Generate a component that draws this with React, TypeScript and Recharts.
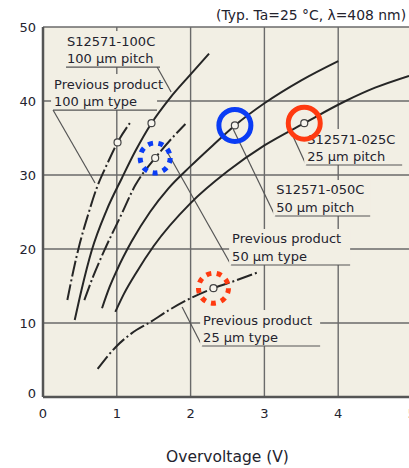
import React from 'react'
import { LineChart, Line, XAxis, YAxis, CartesianGrid, ReferenceDot, ReferenceLine } from 'recharts'

const xTicks = [0, 1, 2, 3, 4, 5]
const yTicks = [0, 10, 20, 30, 40, 50]

// overvoltage (V) / PDE (%)
const prev100V = [0.33, 0.41, 0.5, 0.61, 0.73, 0.87, 1.01, 1.19]
const prev100G = [13.1, 17, 20.8, 24.6, 28.3, 31.5, 34.4, 37.2]
const s100V = [0.43, 0.52, 0.66, 0.86, 1.07, 1.25, 1.47, 1.72, 2.0, 2.25]
const s100G = [10.4, 14.4, 19.8, 25.2, 29.6, 33.2, 37, 40.4, 43.6, 46.4]
const prev50V = [0.56, 0.68, 0.84, 1.05, 1.25, 1.52, 1.75, 1.93]
const prev50G = [13.1, 16.3, 20, 24.4, 28.6, 32.3, 35, 36.9]
const s050V = [0.8, 0.9, 1.0, 1.2, 1.45, 1.7, 2.0, 2.3, 2.6, 3.0, 3.5, 4.0]
const s050G = [12, 14.8, 17.1, 21, 25, 28.2, 31.2, 34.0, 36.7, 39.7, 42.8, 45.4]
const s025V = [0.98, 1.1, 1.27, 1.5, 2.0, 2.5, 3.0, 3.54, 4.1, 4.5, 4.96]
const s025G = [11.5, 14, 16.9, 20.4, 26.2, 30.5, 34, 37, 40, 41.8, 43.4]
const prev25V = [0.74, 0.99, 1.2, 1.45, 1.7, 1.95, 2.31, 2.6, 2.9]
const prev25G = [3.8, 6.8, 8.6, 10.1, 11.7, 13.1, 14.7, 15.7, 16.8]

// open circles on the curves
const markerV = [1.01, 1.47, 1.52, 2.6, 3.54, 2.31]
const markerG = [34.4, 37, 32.3, 36.7, 37, 14.7]

// coloured rings: [v, g, colour, dotted]
const rings: Array<[number, number, string, boolean]> = [
  [2.6, 36.7, '#0a3cf5', false],
  [3.54, 37, '#ff3a10', false],
  [1.52, 32.3, '#0a3cf5', true],
  [2.31, 14.7, '#ff3a10', true],
]

// label blocks: left end / underline position in data units
const labelText = [
  ['S12571-100C', '100 µm pitch'],
  ['Previous product', '100 µm type'],
  ['S12571-025C', '25 µm pitch'],
  ['S12571-050C', '50 µm pitch'],
  ['Previous product', '50 µm type'],
  ['Previous product', '25 µm type'],
]
const labelV = [0.312, 0.136, 3.566, 3.146, 2.549, 2.156]
const labelG = [44.59, 38.78, 31.35, 24.46, 17.84, 6.89]
const labelW = [94, 104, 96, 95, 119, 118]

// leader lines from label to curve
const leaders = [
  [1.546, 44.59, 1.736, 41.22],
  [0.136, 38.78, 0.705, 28.92],
  [3.566, 31.35, 3.336, 36.35],
  [3.146, 24.46, 2.576, 36.22],
  [2.549, 17.84, 1.668, 33.38],
  [2.156, 6.89, 1.885, 12.16],
]

const zip = (vs: number[], gs: number[]) => vs.map((v, i) => ({ v, g: gs[i] }))

const curves = [
  { key: 'prev100', data: zip(prev100V, prev100G), dashed: true },
  { key: 's100', data: zip(s100V, s100G), dashed: false },
  { key: 'prev50', data: zip(prev50V, prev50G), dashed: true },
  { key: 's050', data: zip(s050V, s050G), dashed: false },
  { key: 's025', data: zip(s025V, s025G), dashed: false },
  { key: 'prev25', data: zip(prev25V, prev25G), dashed: true },
]

const plotBg = '#f2efe4'
const ink = '#262626'
const textColor = '#23232e'

const XTick = ({ x, y, payload }: any) => (
  <text x={x} y={y + 16} textAnchor="middle" dominantBaseline="central" fontSize={13} fill={textColor}>
    {payload.value}
  </text>
)

const YTick = ({ x, y, payload }: any) => (
  <text x={x - 7} y={payload.value === 0 ? y - 4 : y} textAnchor="end" dominantBaseline="central" fontSize={13} fill={textColor}>
    {payload.value}
  </text>
)

const LabelBlock = ({ cx, cy, lines, width }: any) => (
  <g>
    <rect x={cx - 2} y={cy - 36} width={width + 2} height={36} fill={plotBg} />
    <text x={cx + 1} y={cy - 26} dominantBaseline="central" fontSize={13} fill={textColor}>{lines[0]}</text>
    <text x={cx + 1} y={cy - 8.5} dominantBaseline="central" fontSize={13} fill={textColor}>{lines[1]}</text>
    <line x1={cx} y1={cy} x2={cx + width} y2={cy} stroke="#555" strokeWidth={1.2} />
  </g>
)

const Title = ({ cx, cy }: any) => (
  <text x={cx - 196} y={cy - 12} dominantBaseline="central" fontSize={13.9} fill={textColor}>
    (Typ. Ta=25 °C, λ=408 nm)
  </text>
)

export default function App() {
  return (
    <div style={{ position: 'absolute', left: 0, top: 0, width: 409, height: 468, overflow: 'hidden', background: '#fff', fontFamily: '"DejaVu Sans", sans-serif' }}>
      <LineChart width={430} height={468} margin={{ top: 27, right: 18, bottom: 0, left: 0 }}>
        <CartesianGrid stroke="#6a6a6a" strokeWidth={1.4} fill={plotBg} fillOpacity={1} />
        <XAxis
          type="number"
          dataKey="v"
          domain={[0, 5]}
          ticks={xTicks}
          height={71}
          tickSize={0}
          tickMargin={0}
          tickLine={false}
          tick={<XTick />}
          axisLine={{ stroke: '#555', strokeWidth: 2.5 }}
          allowDataOverflow
          label={{ value: 'Overvoltage (V)', position: 'insideBottom', offset: 6, fontSize: 15.5, fill: textColor }}
        />
        <YAxis
          type="number"
          dataKey="g"
          domain={[0, 50]}
          ticks={yTicks}
          width={43}
          tickSize={0}
          tickMargin={0}
          tickLine={false}
          tick={<YTick />}
          axisLine={{ stroke: '#555', strokeWidth: 2.5 }}
          allowDataOverflow
        />
        {labelText.map((lines, i) => (
          <ReferenceDot
            key={'lab' + i}
            x={labelV[i]}
            y={labelG[i]}
            ifOverflow="visible"
            shape={(p: any) => <LabelBlock cx={p.cx} cy={p.cy} lines={lines} width={labelW[i]} />}
          />
        ))}
        {leaders.map((s, i) => (
          <ReferenceLine
            key={'ld' + i}
            segment={[{ x: s[0], y: s[1] }, { x: s[2], y: s[3] }]}
            stroke="#555"
            strokeWidth={1.2}
            ifOverflow="visible"
          />
        ))}
        {curves.map(c => (
          <Line
            key={c.key}
            data={c.data}
            dataKey="g"
            type="monotone"
            stroke={ink}
            strokeWidth={2}
            strokeDasharray={c.dashed ? '16 3 2 3' : undefined}
            dot={false}
            activeDot={false}
            isAnimationActive={false}
          />
        ))}
        {markerV.map((v, i) => (
          <ReferenceDot key={'m' + i} x={v} y={markerG[i]} r={3.5} fill="#f7f5ee" stroke="#444" strokeWidth={1.2} />
        ))}
        {rings.map((r, i) => (
          <ReferenceDot
            key={'r' + i}
            x={r[0]}
            y={r[1]}
            r={r[3] ? 15 : 16}
            fill="none"
            stroke={r[2]}
            strokeWidth={5}
            strokeDasharray={r[3] ? '5 5.5' : undefined}
            ifOverflow="visible"
          />
        ))}
        <ReferenceDot x={5} y={50} r={0} ifOverflow="visible" shape={(p: any) => <Title cx={p.cx} cy={p.cy} />} />
      </LineChart>
    </div>
  )
}
